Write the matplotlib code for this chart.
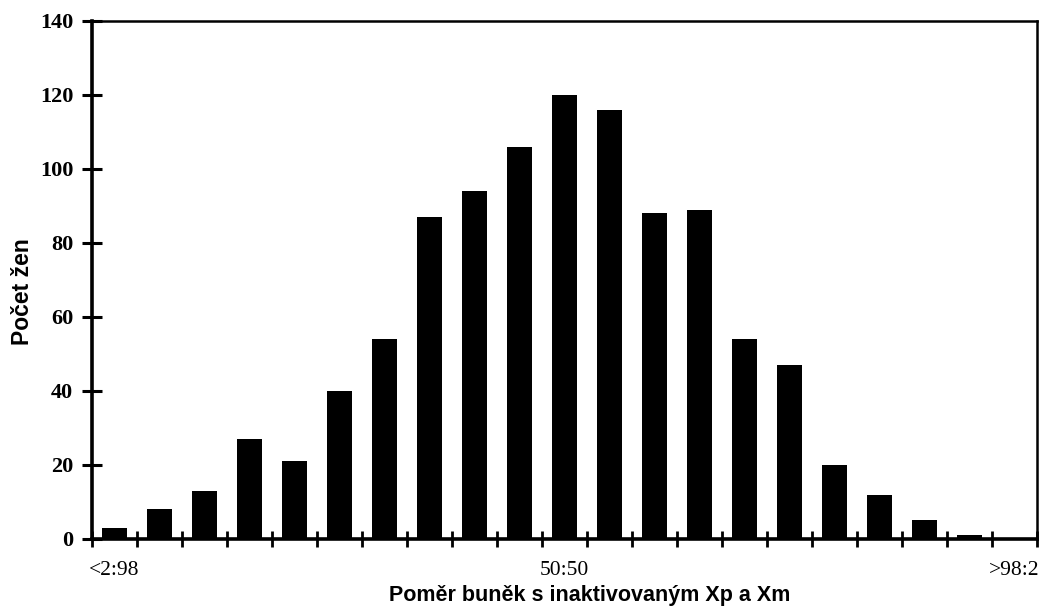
import numpy as np
import matplotlib.pyplot as plt

# pocty zen v jednotlivych tridach pomeru (posledni trida prazdna)
counts = [3, 8, 13, 27, 21, 40, 54, 87, 94, 106, 120, 116, 88, 89, 54, 47, 20, 12, 5, 1, 0]
label_pos = [0, 10, 20]
label_txt = ["<2:98", "50:50", ">98:2"]
y_ticks = [0, 20, 40, 60, 80, 100, 120, 140]

x = np.arange(len(counts))

fig = plt.figure(figsize=(10.43, 6.09), dpi=100)
ax = fig.add_axes([0.0882, 0.115, 0.906, 0.851])

ax.bar(x, counts, width=0.56, color="black")

ax.set_xlim(-0.5, len(counts) - 0.5)
ax.set_ylim(0, 140)

# hranice trid jako male carky
ax.set_xticks(np.arange(len(counts) + 1) - 0.5, minor=True)
ax.set_xticks(label_pos)
ax.set_xticklabels(label_txt, family="Liberation Serif", fontsize=15.5)
ax.tick_params(axis="x", which="major", length=0, pad=16)
ax.tick_params(axis="x", which="minor", direction="inout", length=11, width=2)

ax.set_yticks(y_ticks)
ax.set_yticklabels([str(v) for v in y_ticks], family="Liberation Serif",
                   fontweight="bold", fontsize=16)
ax.tick_params(axis="y", direction="inout", length=15, width=2.2, pad=6)

for s in ["left", "bottom"]:
    ax.spines[s].set_linewidth(2.6)
for s in ["top", "right"]:
    ax.spines[s].set_linewidth(1.8)

ax.set_xlabel("Poměr buněk s inaktivovaným Xp a Xm", family="Liberation Sans",
              fontweight="bold", fontsize=15.5)
ax.xaxis.set_label_coords(0.527, -0.089)
ax.set_ylabel("Počet žen", family="Liberation Sans", fontweight="bold",
              fontsize=16.5)
ax.yaxis.set_label_coords(-0.061, 0.477)

fig.savefig("out.png", dpi=100)
